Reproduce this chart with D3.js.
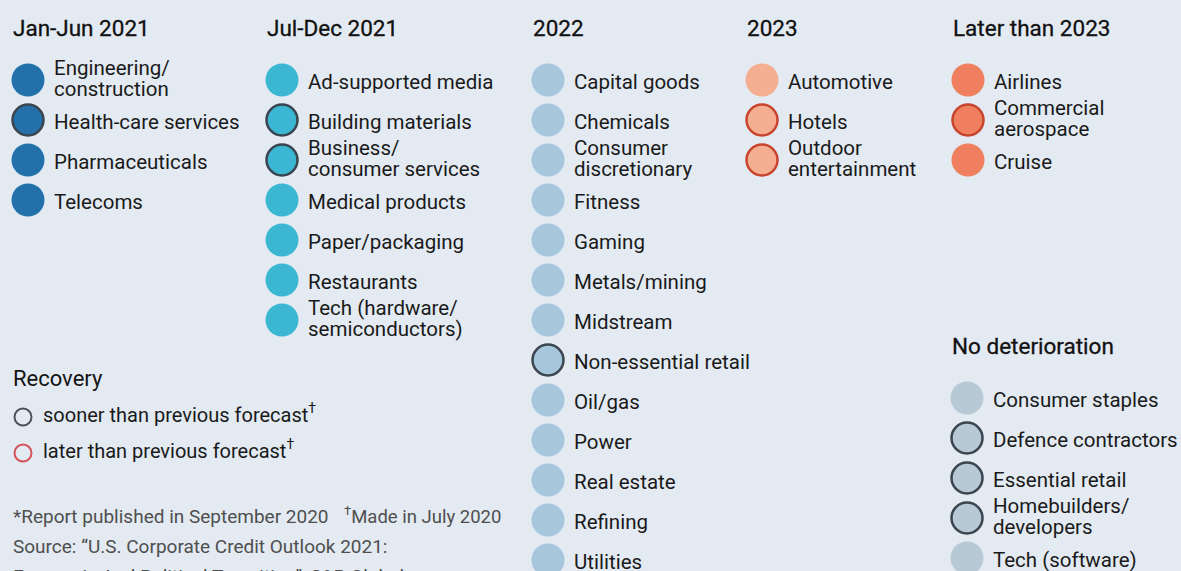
<!DOCTYPE html>
<html>
<head>
<meta charset="utf-8">
<script src="https://cdn.jsdelivr.net/npm/d3@7"></script>
<style>
  body { margin: 0; background: #e3eaf2; }
  svg { display: block; font-family: Roboto, "Noto Sans", sans-serif; }
</style>
</head>
<body>
<svg id="chart"></svg>
<script>
// ---- data ----
const periods = ["Jan-Jun 2021", "Jul-Dec 2021", "2022", "2023", "Later than 2023", "No deterioration"];
const periodColors = ["#2370ab", "#3bb7d3", "#a6c6dc", "#f4ae92", "#ef7f5e", "#b8c9d6"];

const janJun2021 = ["Engineering/\nconstruction", "Health-care services", "Pharmaceuticals", "Telecoms"];
const julDec2021 = ["Ad-supported media", "Building materials", "Business/\nconsumer services", "Medical products",
  "Paper/packaging", "Restaurants", "Tech (hardware/\nsemiconductors)"];
const year2022 = ["Capital goods", "Chemicals", "Consumer\ndiscretionary", "Fitness", "Gaming", "Metals/mining",
  "Midstream", "Non-essential retail", "Oil/gas", "Power", "Real estate", "Refining", "Utilities"];
const year2023 = ["Automotive", "Hotels", "Outdoor\nentertainment"];
const laterThan2023 = ["Airlines", "Commercial\naerospace", "Cruise"];
const noDeterioration = ["Consumer staples", "Defence contractors", "Essential retail", "Homebuilders/\ndevelopers", "Tech (software)"];

// recovery revisions vs previous forecast (July 2020)
const soonerThanForecast = ["Health-care services", "Building materials", "Business/\nconsumer services",
  "Non-essential retail", "Defence contractors", "Essential retail", "Homebuilders/\ndevelopers"];
const laterThanForecast = ["Hotels", "Outdoor\nentertainment", "Commercial\naerospace"];

const footnotes = [
  "*Report published in September 2020",
  "Source: \u201cU.S. Corporate Credit Outlook 2021:",
  "Economic And Political Transition\u201d, S&P Global"
];

const sectorLists = [janJun2021, julDec2021, year2022, year2023, laterThan2023, noDeterioration];

// ---- layout ----
const W = 1181, H = 571;
const svg = d3.select("#chart").attr("width", W).attr("height", H);

const colX = d3.scaleOrdinal().domain(periods).range([28, 282, 548, 762, 968, 967]);
const startRow = d3.scaleOrdinal().domain(periods).range([0, 0, 0, 0, 0, 7.95]);
const rowY = d3.scaleLinear().domain([0, 12]).range([80, 560]);
const color = d3.scaleOrdinal().domain(periods).range(periodColors);

const strokeSooner = "#3a4550", strokeLater = "#c9442f";

const groups = svg.selectAll("g.col")
  .data(periods.map((p, i) => ({ period: p, items: sectorLists[i] })))
  .join("g")
  .attr("class", "col");

groups.append("text")
  .attr("x", d => colX(d.period) - 15)
  .attr("y", d => rowY(startRow(d.period)) - 44)
  .attr("font-size", 22.5)
  .attr("fill", "#111")
  .attr("stroke", "#111")
  .attr("stroke-width", 0.3)
  .text(d => d.period);

const items = groups.selectAll("g.item")
  .data(d => d.items.map((s, j) => ({ period: d.period, label: s, row: startRow(d.period) + j })))
  .join("g")
  .attr("class", "item")
  .attr("transform", d => `translate(${colX(d.period)},${rowY(d.row)})`);

items.append("circle")
  .attr("r", d => (soonerThanForecast.includes(d.label) || laterThanForecast.includes(d.label)) ? 15.5 : 16.5)
  .attr("fill", d => color(d.period))
  .attr("stroke", d => soonerThanForecast.includes(d.label) ? strokeSooner
    : laterThanForecast.includes(d.label) ? strokeLater : "none")
  .attr("stroke-width", 2.5);

items.append("text")
  .attr("x", 26)
  .attr("font-size", 20.5)
  .attr("fill", "#1a1a1a")
  .each(function (d) {
    const lines = d.label.split("\n");
    d3.select(this).selectAll("tspan")
      .data(lines)
      .join("tspan")
      .attr("x", 26)
      .attr("y", (l, k) => lines.length === 1 ? 9 : -5 + k * 21)
      .text(l => l);
  });

// ---- recovery key ----
const key = svg.append("g");
key.append("text").attr("x", 13).attr("y", 386)
  .attr("font-size", 22).attr("fill", "#141414").text("Recovery");

const keyRows = [
  { text: "sooner than previous forecast", stroke: "#4b5258", y: 422 },
  { text: "later than previous forecast", stroke: "#d6525a", y: 458 }
];
const kr = key.selectAll("g.kr").data(keyRows).join("g").attr("class", "kr");
kr.append("circle").attr("cx", 23).attr("cy", d => d.y - 5).attr("r", 8.5)
  .attr("fill", "none").attr("stroke", d => d.stroke).attr("stroke-width", 2);
const kt = kr.append("text").attr("x", 43).attr("y", d => d.y)
  .attr("font-size", 20).attr("fill", "#1a1a1a");
kt.append("tspan").text(d => d.text);
kt.append("tspan").attr("dy", -9).attr("font-size", 14).text("\u2020");

// ---- footnotes ----
const fn = svg.append("g").attr("font-size", 19).attr("fill", "#4f4f4f");
fn.selectAll("text").data(footnotes).join("text")
  .attr("x", 13).attr("y", (d, i) => 523 + i * 30).text(d => d);
const made = fn.append("text").attr("x", 344).attr("y", 523);
made.append("tspan").attr("font-size", 13).attr("dy", -8).text("\u2020");
made.append("tspan").attr("dy", 8).attr("font-size", 18.5).text("Made in July 2020");
</script>
</body>
</html>
